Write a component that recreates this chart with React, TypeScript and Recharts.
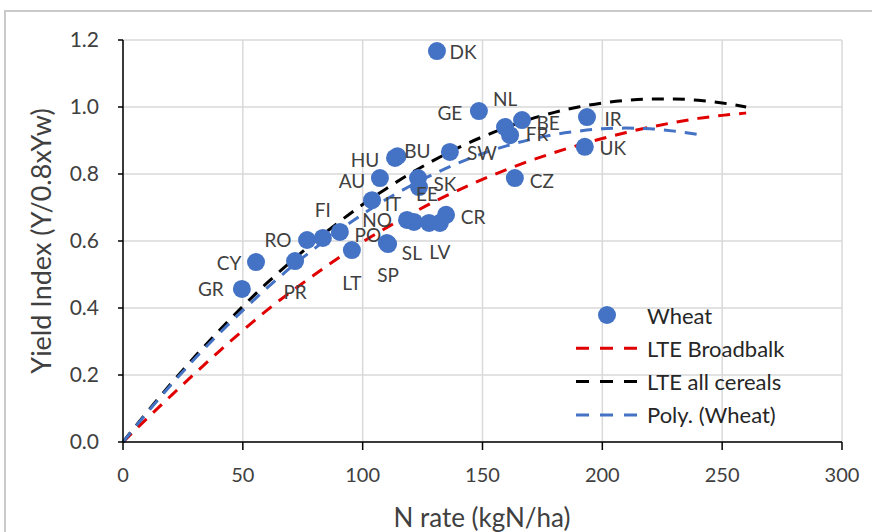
import React from 'react'
import { ComposedChart, Scatter, Line, XAxis, YAxis, CartesianGrid, Label } from 'recharts'

// Wheat: country, N rate (kgN/ha), yield index
const countries = ['GR', 'CY', 'PR', 'RO', 'FI', 'PO', 'LT', 'IT', 'AU', 'HU', 'BU', 'SL', 'SP', 'NO', '', '', 'LV', 'CR', 'SK', 'EE', 'SW', 'DK', 'GE', 'NL', 'BE', 'FR', 'IR', 'UK', 'CZ']
const nRates = [49.6, 55.5, 71.8, 76.8, 83.4, 90.5, 95.5, 103.9, 107.2, 113.5, 114.5, 110.1, 110.6, 118.5, 121.4, 127.7, 132.2, 134.8, 123.1, 123.5, 136.4, 131.0, 148.5, 159.4, 166.5, 161.5, 193.6, 192.7, 163.5]
const yieldIdx = [0.457, 0.537, 0.54, 0.603, 0.609, 0.627, 0.573, 0.722, 0.788, 0.848, 0.853, 0.594, 0.591, 0.663, 0.657, 0.654, 0.654, 0.678, 0.788, 0.761, 0.866, 1.167, 0.988, 0.94, 0.961, 0.916, 0.97, 0.881, 0.788]

// response curves
const curveN = [0, 10, 20, 30, 40, 50, 60, 70, 80, 90, 100, 110, 120, 130, 140, 150, 160, 170, 180, 190, 200, 210, 220, 230, 240, 250, 260]
const broadbalk = [0, 0.07, 0.138, 0.205, 0.27, 0.333, 0.393, 0.448, 0.5, 0.55, 0.597, 0.64, 0.68, 0.718, 0.752, 0.784, 0.813, 0.84, 0.864, 0.886, 0.906, 0.924, 0.94, 0.954, 0.966, 0.975, 0.982]
const allCereals = [0, 0.089, 0.174, 0.255, 0.332, 0.405, 0.474, 0.538, 0.599, 0.656, 0.709, 0.757, 0.802, 0.842, 0.879, 0.911, 0.939, 0.964, 0.984, 1.0, 1.012, 1.02, 1.024, 1.024, 1.02, 1.012, 1.0]
const polyN = [0, 10, 20, 30, 40, 50, 60, 70, 80, 90, 100, 110, 120, 130, 140, 150, 160, 170, 180, 190, 200, 210, 220, 230, 240]
const polyWheat = [0, 0.087, 0.17, 0.249, 0.323, 0.393, 0.459, 0.521, 0.578, 0.631, 0.68, 0.725, 0.765, 0.801, 0.833, 0.861, 0.884, 0.903, 0.918, 0.928, 0.935, 0.937, 0.935, 0.928, 0.918]

const xTicks = [0, 50, 100, 150, 200, 250, 300]
const yTicks = [0, 0.2, 0.4, 0.6, 0.8, 1.0, 1.2]

const wheat = countries.map((name, i) => ({ name, x: nRates[i], y: yieldIdx[i] }))
const redLine = curveN.map((x, i) => ({ x, y: broadbalk[i] }))
const blackLine = curveN.map((x, i) => ({ x, y: allCereals[i] }))
const blueLine = polyN.map((x, i) => ({ x, y: polyWheat[i] }))

// where each data label sits relative to its marker (px)
const labelPos: Record<string, [number, number]> = {
  GR: [-31, 0], CY: [-27, 0], PR: [0, 30], RO: [-29, 0], FI: [0, -28], PO: [28, 3],
  LT: [0, 32], IT: [21, 3], AU: [-28, 2], HU: [-30, 2], BU: [20, -6], SL: [25, 9],
  SP: [0, 30], NO: [-30, 0], LV: [0, 29], CR: [27, 2], SK: [27, 5], EE: [8, 6],
  SW: [32, 1], DK: [26, 0], GE: [-29, 1], NL: [0, -29], BE: [26, 2], FR: [27, -2],
  IR: [26, 1], UK: [28, 1], CZ: [27, 2],
}

const FONT = 'Lato, "Open Sans", sans-serif'
const BLUE = '#4472C4'

const Dot = (p: any) => <circle cx={p.cx} cy={p.cy} r={9} fill={BLUE} />

const DataLabel = (p: any) => {
  const name = p.payload?.name
  if (!name) return <g />
  const [dx, dy] = labelPos[name] || [26, 0]
  return (
    <text x={p.cx + dx} y={p.cy + dy} textAnchor="middle" dominantBaseline="central"
      fontSize={19} fontFamily={FONT} fill="#404040">{name}</text>
  )
}

const legendItems = [
  { label: 'Wheat', kind: 'dot', color: BLUE },
  { label: 'LTE Broadbalk', kind: 'dash', color: '#E00000' },
  { label: 'LTE all cereals', kind: 'dash', color: '#000000' },
  { label: 'Poly. (Wheat)', kind: 'dash', color: BLUE },
]

const ChartLegend = () => (
  <svg width={260} height={135} style={{ position: 'absolute', left: 570, top: 298 }}>
    {legendItems.map((it, i) => {
      const cy = 17 + i * 33.3
      return (
        <g key={it.label}>
          {it.kind === 'dot'
            ? <circle cx={37} cy={cy} r={9} fill={it.color} />
            : <line x1={6} x2={67} y1={cy} y2={cy} stroke={it.color} strokeWidth={3} strokeDasharray="13 11" />}
          <text x={77} y={cy} dominantBaseline="central" fontSize={22} fontFamily={FONT} fill="#262626">{it.label}</text>
        </g>
      )
    })}
  </svg>
)

export default function App() {
  return (
    <div style={{ position: 'absolute', left: 0, top: 0, width: 872, height: 532, background: '#fff' }}>
      <div style={{ position: 'absolute', left: 4, top: 10, width: 868, height: 522, borderTop: '2px solid #c9c9c9', borderLeft: '2px solid #c9c9c9' }} />
      <ComposedChart width={872} height={532} margin={{ top: 40, right: 30, bottom: 0, left: 0 }}>
        <CartesianGrid stroke="#d9d9d9" strokeWidth={1.5} />
        <XAxis type="number" dataKey="x" domain={[0, 300]} ticks={xTicks} height={90}
          tickSize={8} tickMargin={18} axisLine={{ stroke: '#000', strokeWidth: 1.5 }}
          tickLine={{ stroke: '#000', strokeWidth: 1.5 }}
          tick={{ fontSize: 20, fontFamily: FONT, fill: '#404040' }}>
          <Label content={() => (
            <text x={482} y={517} textAnchor="middle" dominantBaseline="central" fontSize={26} fontFamily={FONT} fill="#404040">N rate (kgN/ha)</text>
          )} />
        </XAxis>
        <YAxis type="number" dataKey="y" domain={[0, 1.2]} ticks={yTicks} width={123}
          tickSize={5} tickMargin={19} tickFormatter={(v: number) => v.toFixed(1)}
          axisLine={{ stroke: '#000', strokeWidth: 1.5 }} tickLine={{ stroke: '#000', strokeWidth: 1.5 }}
          tick={{ fontSize: 21, fontFamily: FONT, fill: '#404040' }}>
          <Label content={() => (
            <text transform="translate(40, 241) rotate(-90)" textAnchor="middle" dominantBaseline="central" fontSize={27} fontFamily={FONT} fill="#404040">Yield Index (Y/0.8xYw)</text>
          )} />
        </YAxis>
        <Scatter name="Wheat" data={wheat} dataKey="y" shape={Dot} isAnimationActive={false} />
        <Line name="LTE Broadbalk" data={redLine} dataKey="y" type="monotone" stroke="#E00000" strokeWidth={3} strokeDasharray="12 9" dot={false} activeDot={false} isAnimationActive={false} />
        <Line name="LTE all cereals" data={blackLine} dataKey="y" type="monotone" stroke="#000" strokeWidth={3} strokeDasharray="12 9" dot={false} activeDot={false} isAnimationActive={false} />
        <Line name="Poly. (Wheat)" data={blueLine} dataKey="y" type="monotone" stroke={BLUE} strokeWidth={3} strokeDasharray="12 9" dot={false} activeDot={false} isAnimationActive={false} />
        <Scatter name="labels" data={wheat} dataKey="y" shape={DataLabel} isAnimationActive={false} legendType="none" />
      </ComposedChart>
      <ChartLegend />
    </div>
  )
}
